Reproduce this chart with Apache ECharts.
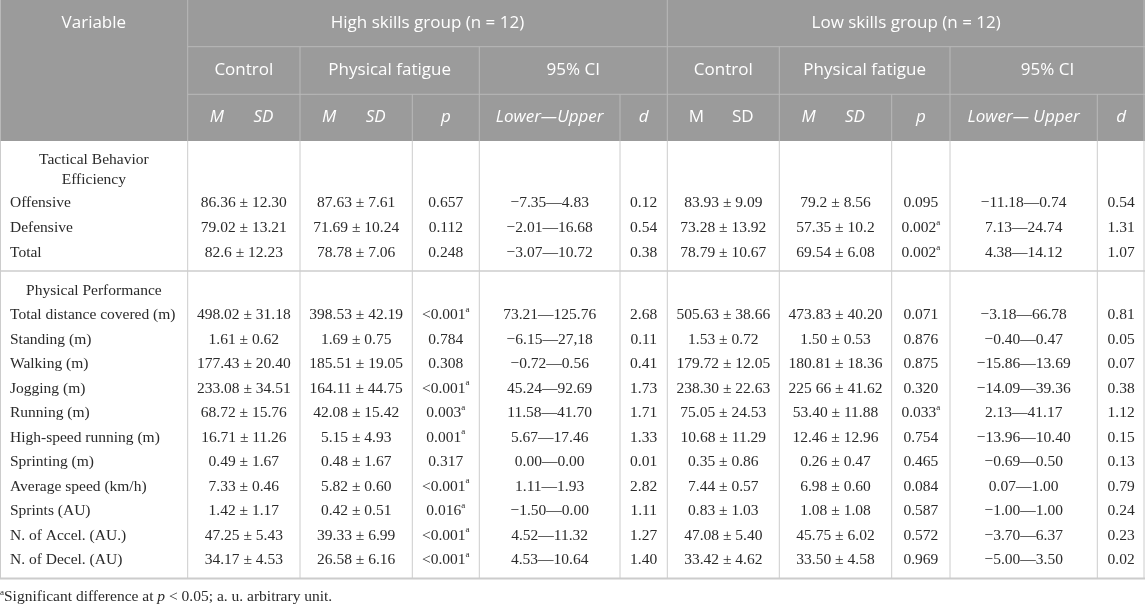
<!DOCTYPE html>
<html>
<head>
<meta charset="utf-8">
<script src="https://cdn.jsdelivr.net/npm/echarts@6/dist/echarts.min.js"></script>
<style>
  html, body { margin: 0; padding: 0; background: #fff; }
  #main { width: 1145px; height: 604px; }
</style>
</head>
<body>
<div id="main"></div>
<script>
// table text, row by row
const groupLabels = ["High skills group (n = 12)", "Low skills group (n = 12)"];
const conditionLabels = ["Control", "Physical fatigue", "95% CI"];
const statLabelsHigh = ["M SD", "M SD", "p", "Lower\u2014Upper", "d"];
const statLabelsLow = ["M SD", "M SD", "p", "Lower\u2014 Upper", "d"];
const statItalicLow = [false, true, true, true, true];

const sectionTitles = ["Tactical Behavior\nEfficiency", "Physical Performance"];
const tacticalVars = ["Offensive", "Defensive", "Total"];
const physicalVars = [
  "Total distance covered (m)", "Standing (m)", "Walking (m)", "Jogging (m)",
  "Running (m)", "High-speed running (m)", "Sprinting (m)", "Average speed (km/h)",
  "Sprints (AU)", "N. of Accel. (AU.)", "N. of Decel. (AU)"
];

// "^a" marks a significant p value (superscript a)
const hiControl = ["86.36 ± 12.30", "79.02 ± 13.21", "82.6 ± 12.23",
  "498.02 ± 31.18", "1.61 ± 0.62", "177.43 ± 20.40", "233.08 ± 34.51", "68.72 ± 15.76",
  "16.71 ± 11.26", "0.49 ± 1.67", "7.33 ± 0.46", "1.42 ± 1.17", "47.25 ± 5.43", "34.17 ± 4.53"];
const hiFatigue = ["87.63 ± 7.61", "71.69 ± 10.24", "78.78 ± 7.06",
  "398.53 ± 42.19", "1.69 ± 0.75", "185.51 ± 19.05", "164.11 ± 44.75", "42.08 ± 15.42",
  "5.15 ± 4.93", "0.48 ± 1.67", "5.82 ± 0.60", "0.42 ± 0.51", "39.33 ± 6.99", "26.58 ± 6.16"];
const hiP = ["0.657", "0.112", "0.248",
  "<0.001^a", "0.784", "0.308", "<0.001^a", "0.003^a",
  "0.001^a", "0.317", "<0.001^a", "0.016^a", "<0.001^a", "<0.001^a"];
const hiCI = ["\u22127.35\u20144.83", "\u22122.01\u201416.68", "\u22123.07\u201410.72",
  "73.21\u2014125.76", "\u22126.15\u201427,18", "\u22120.72\u20140.56", "45.24\u201492.69", "11.58\u201441.70",
  "5.67\u201417.46", "0.00\u20140.00", "1.11\u20141.93", "\u22121.50\u20140.00", "4.52\u201411.32", "4.53\u201410.64"];
const hiD = ["0.12", "0.54", "0.38",
  "2.68", "0.11", "0.41", "1.73", "1.71", "1.33", "0.01", "2.82", "1.11", "1.27", "1.40"];

const loControl = ["83.93 ± 9.09", "73.28 ± 13.92", "78.79 ± 10.67",
  "505.63 ± 38.66", "1.53 ± 0.72", "179.72 ± 12.05", "238.30 ± 22.63", "75.05 ± 24.53",
  "10.68 ± 11.29", "0.35 ± 0.86", "7.44 ± 0.57", "0.83 ± 1.03", "47.08 ± 5.40", "33.42 ± 4.62"];
const loFatigue = ["79.2 ± 8.56", "57.35 ± 10.2", "69.54 ± 6.08",
  "473.83 ± 40.20", "1.50 ± 0.53", "180.81 ± 18.36", "225 66 ± 41.62", "53.40 ± 11.88",
  "12.46 ± 12.96", "0.26 ± 0.47", "6.98 ± 0.60", "1.08 ± 1.08", "45.75 ± 6.02", "33.50 ± 4.58"];
const loP = ["0.095", "0.002^a", "0.002^a",
  "0.071", "0.876", "0.875", "0.320", "0.033^a",
  "0.754", "0.465", "0.084", "0.587", "0.572", "0.969"];
const loCI = ["\u221211.18\u20140.74", "7.13\u201424.74", "4.38\u201414.12",
  "\u22123.18\u201466.78", "\u22120.40\u20140.47", "\u221215.86\u201413.69", "\u221214.09\u201439.36", "2.13\u201441.17",
  "\u221213.96\u201410.40", "\u22120.69\u20140.50", "0.07\u20141.00", "\u22121.00\u20141.00", "\u22123.70\u20146.37", "\u22125.00\u20143.50"];
const loD = ["0.54", "1.31", "1.07",
  "0.81", "0.05", "0.07", "0.38", "1.12", "0.15", "0.13", "0.79", "0.24", "0.23", "0.02"];

// layout
const W = 1145;
const colEdges = [0, 187.7, 300, 412.3, 479.3, 620, 667.3, 779.3, 891.7, 950, 1097.3, 1145];
const hdrEdges = [0, 46.7, 94.3, 141];
const sec1Top = 141, sec2Top = 271, tableBottom = 578.5;
const rowStep1 = 24.7, rowStep2 = 24.5;

const HEAD_FONT = '"Open Sans", "Noto Sans", sans-serif';
const BODY_FONT = '"Liberation Serif", "DejaVu Serif", serif';
const headBg = "#9b9b9b";
const headLine = "#b9b9b9";
const bodyLine = "#cccccc";
const bodyText = "#2a2a2a";

const cx = (c0, c1) => (colEdges[c0] + colEdges[c1 === undefined ? c0 + 1 : c1]) / 2;
const elements = [];

function line(x1, y1, x2, y2, color, w) {
  elements.push({ type: "line", silent: true,
    shape: { x1: x1, y1: y1, x2: x2, y2: y2 },
    style: { stroke: color, lineWidth: w || 1 } });
}
function headText(txt, x, y, italic) {
  elements.push({ type: "text", silent: true, x: x, y: y,
    style: { text: txt, fill: "#fff", align: "center", verticalAlign: "middle",
      font: (italic ? "italic " : "") + "17px " + HEAD_FONT } });
}
function bodyCell(txt, x, y, align) {
  const sup = txt.endsWith("^a");
  const main = sup ? txt.slice(0, -2) : txt;
  elements.push({ type: "text", silent: true, x: x, y: y,
    style: {
      text: sup ? "{v|" + main + "}{s|a}" : main,
      fill: bodyText, align: align || "center", verticalAlign: "middle",
      font: "15.5px " + BODY_FONT, lineHeight: 20,
      rich: {
        v: { fontSize: 15.5, fontFamily: BODY_FONT, fill: bodyText, lineHeight: 17 },
        s: { fontSize: 9, fontFamily: BODY_FONT, fill: bodyText, verticalAlign: "top" }
      }
    } });
}

// header background
elements.push({ type: "rect", silent: true,
  shape: { x: 0, y: 0, width: W, height: hdrEdges[3] },
  style: { fill: headBg } });

// header grid
line(colEdges[1], 0, colEdges[1], hdrEdges[3], headLine);
line(colEdges[6], 0, colEdges[6], hdrEdges[3], headLine);
line(colEdges[1], hdrEdges[1], W, hdrEdges[1], headLine);
line(colEdges[1], hdrEdges[2], W, hdrEdges[2], headLine);
[2, 4, 7, 9].forEach(c => line(colEdges[c], hdrEdges[1], colEdges[c], hdrEdges[3], headLine));
[3, 5, 8, 10].forEach(c => line(colEdges[c], hdrEdges[2], colEdges[c], hdrEdges[3], headLine));
line(0.5, 0, 0.5, hdrEdges[3], headLine);
line(W - 1, 0, W - 1, hdrEdges[3], headLine);

// header text
const r1 = (hdrEdges[0] + hdrEdges[1]) / 2;
const r2 = (hdrEdges[1] + hdrEdges[2]) / 2;
const r3 = (hdrEdges[2] + hdrEdges[3]) / 2;
headText("Variable", cx(0), r1, false);
headText(groupLabels[0], cx(1, 6), r1, false);
headText(groupLabels[1], cx(6, 11), r1, false);
const condSpans = [[1, 2], [2, 4], [4, 6]];
[0, 5].forEach(off => {
  condSpans.forEach((sp, i) => headText(conditionLabels[i], cx(sp[0] + off, sp[1] + off), r2, false));
});
function statRow(labels, italics, off) {
  labels.forEach((lab, i) => {
    const c = 1 + off + i;
    const it = italics ? italics[i] : true;
    if (lab === "M SD") {
      headText("M", cx(c) - 27, r3, it);
      headText("SD", cx(c) + 19.5, r3, it);
    } else {
      headText(lab, cx(c), r3, it);
    }
  });
}
statRow(statLabelsHigh, null, 0);
statRow(statLabelsLow, statItalicLow, 5);

// body grid
for (let c = 1; c < colEdges.length - 1; c++) {
  line(colEdges[c], hdrEdges[3], colEdges[c], tableBottom, bodyLine);
}
line(0.5, hdrEdges[3], 0.5, tableBottom, bodyLine);
line(W - 1, hdrEdges[3], W - 1, tableBottom, bodyLine);
line(0, sec2Top, W, sec2Top, bodyLine, 1.5);
line(0, tableBottom, W, tableBottom, bodyLine, 2);

// body text
const valueCols = [hiControl, hiFatigue, hiP, hiCI, hiD, loControl, loFatigue, loP, loCI, loD];
const sectionVars = [tacticalVars, physicalVars];
const sectionTops = [sec1Top, sec2Top];
const titleOffsets = [28.5, 19.7];
const firstRowOffsets = [62.3, 44];
const steps = [rowStep1, rowStep2];
let rowIdx = 0;
sectionVars.forEach((vars, s) => {
  bodyCell(sectionTitles[s], cx(0), sectionTops[s] + titleOffsets[s], "center");
  vars.forEach((v, k) => {
    const y = sectionTops[s] + firstRowOffsets[s] + k * steps[s];
    bodyCell(v, 10, y, "left");
    valueCols.forEach((col, c) => bodyCell(col[rowIdx], cx(c + 1), y, "center"));
    rowIdx++;
  });
});

// footnote
elements.push({ type: "text", silent: true, x: 0, y: 597,
  style: {
    text: "{s|a}{r|Significant difference at }{i|p}{r| < 0.05; a. u. arbitrary unit.}",
    verticalAlign: "middle", align: "left",
    rich: {
      s: { fontSize: 9, fontFamily: BODY_FONT, fill: bodyText, verticalAlign: "top" },
      r: { fontSize: 15.5, fontFamily: BODY_FONT, fill: bodyText, lineHeight: 17 },
      i: { fontSize: 15.5, fontFamily: BODY_FONT, fontStyle: "italic", fill: bodyText, lineHeight: 17 }
    }
  } });

const chart = echarts.init(document.getElementById("main"), null, { renderer: "canvas" });
chart.setOption({
  backgroundColor: "#fff",
  animation: false,
  graphic: { elements: elements }
});
</script>
</body>
</html>
